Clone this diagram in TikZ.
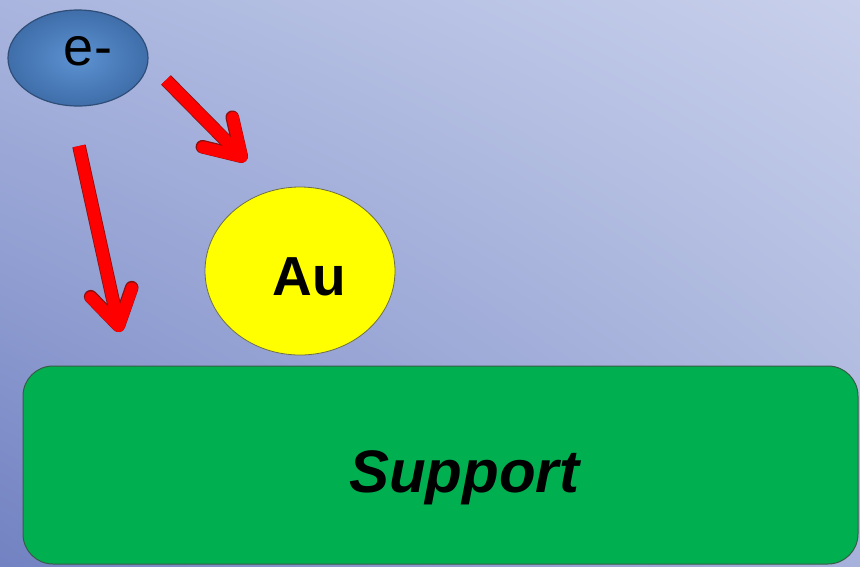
\documentclass[tikz,border=0pt]{standalone}
\usepackage{fontspec}
\setmainfont{Liberation Sans}
\usetikzlibrary{arrows.meta,shapes.geometric,shadings}

\definecolor{bgTL}{HTML}{A9B5DE}
\definecolor{bgTR}{HTML}{C8D0EB}
\definecolor{bgBL}{HTML}{7282C2}
\definecolor{bgBR}{HTML}{A6B2DB}
\definecolor{elecIn}{HTML}{5D92D2}
\definecolor{elecOut}{HTML}{3F6EAA}
\definecolor{elecLine}{HTML}{2E4E78}
\definecolor{gold}{HTML}{FFFF00}
\definecolor{goldLine}{HTML}{6E6E4A}
\definecolor{supportFill}{HTML}{00B050}
\definecolor{supportLine}{HTML}{3A5A48}
\definecolor{arrowRed}{HTML}{FF0000}
\definecolor{arrowEdge}{HTML}{8A1010}

\tikzset{
  electron/.style={ellipse, draw=elecLine, line width=1.2pt,
    inner color=elecIn, outer color=elecOut,
    minimum width=140pt, minimum height=96pt, inner sep=0pt},
  particle/.style={ellipse, draw=goldLine, line width=0.8pt, fill=gold,
    minimum width=190pt, minimum height=168pt, inner sep=0pt},
  substrate/.style={rectangle, draw=supportLine, line width=1pt, fill=supportFill,
    rounded corners=30pt, minimum width=835pt, minimum height=198pt, inner sep=0pt},
  label/.style={anchor=base, inner sep=0pt, text=black},
  hitarrow/.style={draw=arrowRed, line width=12pt,
    preaction={draw=arrowEdge, line width=13.6pt},
    -{Straight Barb[length=34pt, width=42pt, round]}},
}

\begin{document}
\begin{tikzpicture}[x=1pt,y=-1pt]
  \useasboundingbox (0,0) rectangle (860,566);
  % diagonal background gradient
  \shade[upper left=bgTL, upper right=bgTR, lower left=bgBL, lower right=bgBR]
    (0,0) rectangle (860,566);

  % substrate
  \node[substrate] (support) at (440.5,465) {};
  \node[label, font=\bfseries\itshape\fontsize{60}{66}\selectfont] (supportText) at (464,492) {Support};

  % gold particle
  \node[particle] (au) at (300,271) {};
  \node[label, font=\bfseries\fontsize{55}{60}\selectfont] (auText) at (309,295) {Au};

  % electron
  \node[electron] (e) at (78,58) {};
  \node[label, font=\fontsize{54}{60}\selectfont] (eText) at (88,65) {e-};

  % electron paths
  \coordinate (a1s) at (166,80);
  \coordinate (a1e) at (246,161);
  \coordinate (a2s) at (79,146);
  \coordinate (a2e) at (120,332);
  \draw[hitarrow] (a1s) -- (a1e);
  \draw[hitarrow] (a2s) -- (a2e);
\end{tikzpicture}
\end{document}
